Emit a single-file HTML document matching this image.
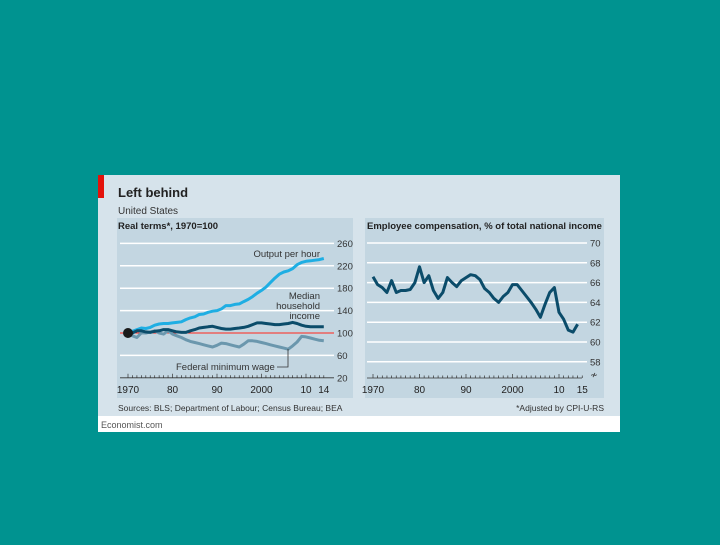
<!DOCTYPE html>
<html><head><meta charset="utf-8"><style>
body{margin:0;width:720px;height:540px;background:#009390;overflow:hidden;font-family:"Liberation Sans",sans-serif}
svg text{font-family:"Liberation Sans",sans-serif}
</style></head><body>
<svg id="c" width="720" height="540">
<rect x="98" y="175" width="522" height="241" fill="#d6e3eb"/>
<rect x="98" y="416" width="522" height="16" fill="#ffffff"/>
<text x="101" y="428" font-size="9" fill="#555">Economist.com</text>
<rect x="98" y="175" width="6" height="23" fill="#e3120b"/>
<text x="118" y="197" font-size="13" font-weight="bold" fill="#222">Left behind</text>
<text x="118" y="214" font-size="10" fill="#333">United States</text>
<rect x="117" y="218" width="236" height="180" fill="#c3d6e1"/>
<rect x="365" y="218" width="239" height="180" fill="#c3d6e1"/>
<text x="118" y="229" font-size="9.5" font-weight="bold" fill="#222">Real terms*, 1970=100</text>
<text x="367" y="229" font-size="9.5" font-weight="bold" fill="#222">Employee compensation, % of total national income</text>
<text x="118" y="411" font-size="8.5" fill="#333">Sources: BLS; Department of Labour; Census Bureau; BEA</text>
<text x="604" y="411" font-size="8.5" fill="#333" text-anchor="end">*Adjusted by CPI-U-RS</text>
<g id="L"></g><g id="R"></g>
</svg>
<script>
const leftYears=[];for(let y=1970;y<=2014;y++)leftYears.push(y);
const outputPerHour=[100,103,106,109,108,110,114,116,117,117,118,119,120,124,127,129,133,134,137,139,140,143,149,149,151,152,156,160,165,171,176,182,190,198,205,209,211,215,222,226,228,229,230,231,233];
const medianIncome=[100,100,104,104,102,101,103,104,106,106,104,102,101,101,104,106,109,110,111,112,110,108,107,107,108,109,110,112,115,118,118,117,116,115,115,116,117,119,117,114,112,111,111,111,111];
const minWage=[100,95,92,100,100,102,104,100,98,104,98,95,92,88,85,83,81,79,77,75,78,82,81,79,77,75,80,86,86,85,83,81,79,77,75,73,71,77,84,94,93,91,89,87,86];
const leftTicks=[260,220,180,140,100,60,20];
const leftXLabels=["1970","80","90","2000","10","14"];
const leftXLabelYears=[1970,1980,1990,2000,2010,2014];
const compYears=[];for(let y=1970;y<=2014;y++)compYears.push(y);
const compensation=[66.6,65.8,65.5,65.0,66.2,65.0,65.2,65.2,65.3,66.0,67.6,66.0,66.7,65.2,64.4,65.0,66.5,66.0,65.6,66.2,66.5,66.8,66.7,66.3,65.4,65.0,64.4,64.0,64.6,65.0,65.8,65.8,65.2,64.6,64.0,63.3,62.5,63.8,65.0,65.5,63.0,62.3,61.2,61.0,61.8];
const rightTicks=[70,68,66,64,62,60,58];
const rightXLabels=["1970","80","90","2000","10","15"];
const rightXLabelYears=[1970,1980,1990,2000,2010,2015];
const NS="http://www.w3.org/2000/svg";
function mk(p,t,a){const e=document.createElementNS(NS,t);for(const k in a)e.setAttribute(k,a[k]);p.appendChild(e);return e;}
const lx=y=>128+(y-1970)*4.45, ly=v=>333-(v-100)*0.56;
const rx=y=>373+(y-1970)*4.65, ry=v=>243+(70-v)*9.9;
const L=document.getElementById('L'),R=document.getElementById('R');
leftTicks.forEach(t=>{const l=mk(L,'line',{x1:120,x2:334,y1:ly(t),y2:ly(t),stroke:t==20?'#333':'#fff','stroke-width':t==20?0.8:1.5});

const tx=mk(L,'text',{x:337,y:ly(t)+3.5,'font-size':9.5,fill:'#333'});tx.textContent=t;
});
leftYears.forEach(y=>{const k=mk(L,'line',{x1:lx(y),x2:lx(y),y1:ly(20),y2:ly(20)-(y%10==0?4:2.5),stroke:'#333','stroke-width':0.7});
});
leftXLabels.forEach((s,i)=>{const t=mk(L,'text',{x:lx(leftXLabelYears[i]),y:393,'font-size':10,fill:'#222','text-anchor':'middle'});t.textContent=s;
});
const red=mk(L,'line',{x1:120,x2:334,y1:ly(100),y2:ly(100),stroke:'#e3120b','stroke-width':1});

function path(g,xs,vs,fx,fy,col,name){const d=vs.map((v,i)=>(i?'L':'M')+fx(xs[i]).toFixed(1)+','+fy(v).toFixed(1)).join('');
const p=mk(g,'path',{d:d,fill:'none',stroke:col,'stroke-width':3,'stroke-linejoin':'round'});
}
path(L,leftYears,minWage,lx,ly,'#6b97ad','min-wage-line');
path(L,leftYears,outputPerHour,lx,ly,'#1eaee3','output-per-hour-line');
path(L,leftYears,medianIncome,lx,ly,'#0b4c6a','median-income-line');
const dot=mk(L,'circle',{cx:lx(1970),cy:ly(100),r:5,fill:'#1a1a1a'});

function lab(g,x,y,s,anchor,name){const t=mk(g,'text',{x:x,y:y,'font-size':9.5,fill:'#333','text-anchor':anchor});t.textContent=s;
}
lab(L,320,257,'Output per hour','end','output-label');
lab(L,320,299,'Median','end','median-label');lab(L,320,309,'household','end','median-label');lab(L,320,319,'income','end','median-label');
lab(L,176,370,'Federal minimum wage','start','min-wage-label');
const ld=mk(L,'path',{d:'M277,367H288V349',fill:'none',stroke:'#333','stroke-width':0.8});

rightTicks.forEach(t=>{const l=mk(R,'line',{x1:367,x2:587,y1:ry(t),y2:ry(t),stroke:'#fff','stroke-width':1.5});

const tx=mk(R,'text',{x:590,y:ry(t)+3.5,'font-size':9.5,fill:'#333'});tx.textContent=t;
});
const ax=mk(R,'line',{x1:367,x2:582,y1:378,y2:378,stroke:'#333','stroke-width':0.8});

for(let y=1970;y<=2015;y++){const k=mk(R,'line',{x1:rx(y),x2:rx(y),y1:378,y2:y%10==0?374:375.5,stroke:'#333','stroke-width':0.7});
}
rightXLabels.forEach((s,i)=>{const t=mk(R,'text',{x:rx(rightXLabelYears[i]),y:393,'font-size':10,fill:'#222','text-anchor':'middle'});t.textContent=s;
});
lab(R,590,378,'≁','start','axis-break');
path(R,compYears,compensation,rx,ry,'#0b4c6a','compensation-line');
</script>
</body></html>
